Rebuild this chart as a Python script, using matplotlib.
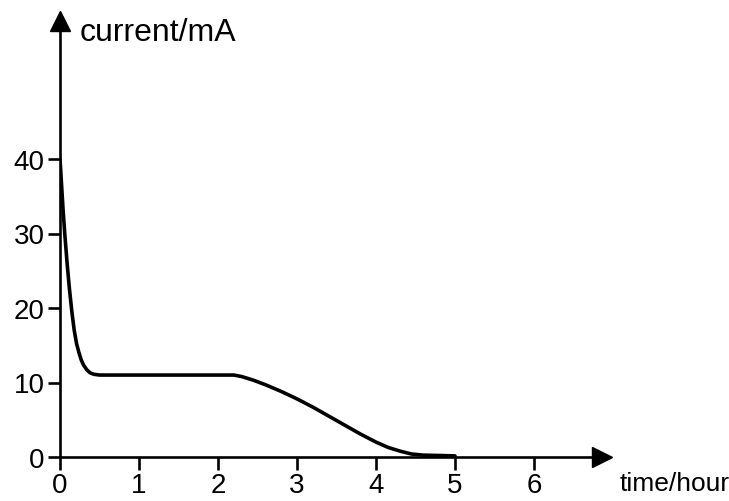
import matplotlib
matplotlib.use('Agg')
import matplotlib.pyplot as plt

plt.rcParams.update({
    "font.family": ["Liberation Sans", "DejaVu Sans"],
    "font.size": 20,
})

# values
time_h = [0.0, 0.02, 0.04, 0.06, 0.09, 0.12, 0.15, 0.18, 0.21, 0.24, 0.27, 0.30,
          0.34, 0.38, 0.43, 0.5, 1.0, 1.5, 2.0, 2.2, 2.3, 2.45, 2.6, 2.8, 3.0,
          3.2, 3.4, 3.6, 3.8, 4.0, 4.15, 4.3, 4.45, 4.6, 4.8, 5.0]
current_ma = [40.0, 36.5, 33.0, 30.0, 26.0, 22.5, 19.5, 17.0, 15.2, 14.0, 13.0, 12.3,
              11.7, 11.3, 11.1, 11.0, 11.0, 11.0, 11.0, 11.0, 10.8, 10.3, 9.7, 8.8, 7.8,
              6.7, 5.5, 4.3, 3.1, 2.0, 1.3, 0.8, 0.4, 0.25, 0.2, 0.15]

x_ticks = [0, 1, 2, 3, 4, 5, 6]
y_ticks = [0, 10, 20, 30, 40]

# pixel layout: origin at (60, 458), 79 px per hour, 7.45 px per mA
fig = plt.figure(figsize=(7.29, 5.02), dpi=100)
ax = fig.add_axes([60 / 729, 44 / 502, 542 / 729, 436 / 502])

ax.plot(time_h, current_ma, color="black", linewidth=2.6, solid_capstyle="round")

ax.set_xlim(0, 542 / 79)
ax.set_ylim(0, 436 / 7.45)
ax.set_xticks(x_ticks)
ax.set_yticks(y_ticks)

for side in ("top", "right"):
    ax.spines[side].set_visible(False)
for side in ("left", "bottom"):
    ax.spines[side].set_linewidth(1.9)

ax.tick_params(direction="out", length=9, width=1.9, labelsize=20, pad=2)

# arrow heads on the axes
ax.plot(1, 0, ">", color="black", markersize=15, transform=ax.transAxes, clip_on=False)
ax.plot(0, 1, "^", color="black", markersize=15, transform=ax.transAxes, clip_on=False)

fig.text(80 / 729, 1 - 33 / 502, "current/mA", fontsize=23, va="center", ha="left")
fig.text(620 / 729, 1 - 484 / 502, "time/hour", fontsize=19, va="center", ha="left")

fig.savefig("out.png", dpi=100)
